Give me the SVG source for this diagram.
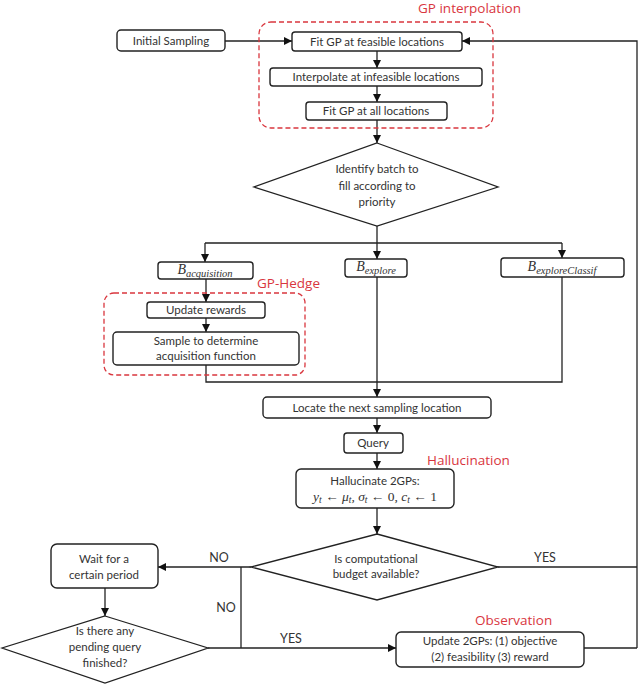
<svg xmlns="http://www.w3.org/2000/svg" width="640" height="684" viewBox="0 0 640 684">
<defs>
<marker id="ah" viewBox="0 0 10 10" refX="10" refY="5" markerWidth="8" markerHeight="8" markerUnits="userSpaceOnUse" orient="auto">
<path d="M0,0 L10,5 L0,10 z" fill="#111"/>
</marker>
<style>
.box{fill:#fff;stroke:#222;stroke-width:1.4}
.dia{fill:#fff;stroke:#222;stroke-width:1.3}
.grp{fill:none;stroke:#d9363e;stroke-width:1.3;stroke-dasharray:5,3}
.t{font-family:Lato,"Open Sans","Liberation Sans",sans-serif;font-size:11.5px;fill:#333;text-anchor:middle}
.lbl{font-family:Lato,"Open Sans","Liberation Sans",sans-serif;font-size:12.5px;fill:#333;text-anchor:middle}
.red{font-family:"Open Sans",Lato,"Liberation Sans",sans-serif;font-size:13.5px;fill:#d9363e}
.m{font-family:"Liberation Serif","DejaVu Serif",serif;font-style:italic;fill:#333;text-anchor:middle}
.c{fill:none;stroke:#222;stroke-width:1.3}
.ca{fill:none;stroke:#222;stroke-width:1.3;marker-end:url(#ah)}
</style>
</defs>
<rect width="640" height="684" fill="#fff"/>

<g id="connectors">
<path class="ca" d="M225,41 H292"/>
<path class="ca" d="M637,648 V41 H462"/>
<path class="ca" d="M377,51 V68"/>
<path class="ca" d="M377,86 V102"/>
<path class="ca" d="M377,120 V143"/>
<path class="c" d="M377,226 V243 M205,243 H562"/>
<path class="ca" d="M205,243 V262"/>
<path class="ca" d="M377,243 V259"/>
<path class="ca" d="M562,243 V258"/>
<path class="ca" d="M206,279 V302"/>
<path class="ca" d="M206,318 V332"/>
<path class="c" d="M206,365 V382 H562 V277"/>
<path class="ca" d="M377,277 V397"/>
<path class="ca" d="M377,418 V433"/>
<path class="ca" d="M377,453 V469"/>
<path class="ca" d="M377,508 V534"/>
<path class="ca" d="M251,567 H158"/>
<path class="c" d="M498,567 H637"/>
<path class="c" d="M241,567 V648"/>
<path class="ca" d="M105,588 V616"/>
<path class="ca" d="M208,648 H396"/>
<path class="c" d="M584,648 H637"/>
<text class="lbl" x="219" y="562">NO</text>
<text class="lbl" x="226" y="612">NO</text>
<text class="lbl" x="545" y="562">YES</text>
<text class="lbl" x="291" y="643">YES</text>
</g>

<g id="gp-interpolation">
<rect class="grp" x="259" y="22" width="234" height="106" rx="12"/>
<text class="red" x="418" y="13">GP interpolation</text>
</g>
<g id="gp-hedge">
<rect class="grp" x="104" y="293" width="201" height="82" rx="10"/>
<text class="red" x="257" y="288">GP-Hedge</text>
</g>
<g id="hallucination-label"><text class="red" x="427" y="465">Hallucination</text></g>
<g id="observation-label"><text class="red" x="475" y="625">Observation</text></g>

<g id="initial-sampling">
<rect class="box" x="117" y="30" width="108" height="21" rx="4"/>
<text class="t" x="171" y="45">Initial Sampling</text>
</g>
<g id="fit-feasible">
<rect class="box" x="292" y="32" width="170" height="19" rx="3"/>
<text class="t" x="377" y="46">Fit GP at feasible locations</text>
</g>
<g id="interpolate">
<rect class="box" x="270" y="68" width="212" height="18" rx="3"/>
<text class="t" x="376" y="81">Interpolate at infeasible locations</text>
</g>
<g id="fit-all">
<rect class="box" x="306" y="102" width="141" height="18" rx="3"/>
<text class="t" x="376" y="115">Fit GP at all locations</text>
</g>
<g id="identify-batch">
<polygon class="dia" points="377,143 498,187 377,226 254,187"/>
<text class="t" x="377" y="173">Identify batch to</text>
<text class="t" x="377" y="190">fill according to</text>
<text class="t" x="377" y="206">priority</text>
</g>
<g id="b-acquisition">
<rect class="box" x="158" y="262" width="95" height="17" rx="3"/>
<text class="m" x="205" y="274"><tspan font-size="14">B</tspan><tspan font-size="10.5" dy="3">acquisition</tspan></text>
</g>
<g id="b-explore">
<rect class="box" x="345" y="259" width="62" height="18" rx="3"/>
<text class="m" x="376" y="271"><tspan font-size="14">B</tspan><tspan font-size="10.5" dy="3">explore</tspan></text>
</g>
<g id="b-exploreclassif">
<rect class="box" x="501" y="258" width="123" height="19" rx="3"/>
<text class="m" x="562" y="271"><tspan font-size="14">B</tspan><tspan font-size="10.5" dy="3">exploreClassif</tspan></text>
</g>
<g id="update-rewards">
<rect class="box" x="147" y="302" width="118" height="16" rx="3"/>
<text class="t" x="206" y="314">Update rewards</text>
</g>
<g id="sample-acq">
<rect class="box" x="113" y="332" width="186" height="33" rx="4"/>
<text class="t" x="206" y="345">Sample to determine</text>
<text class="t" x="206" y="360">acquisition function</text>
</g>
<g id="locate">
<rect class="box" x="263" y="397" width="228" height="21" rx="4"/>
<text class="t" x="377" y="412">Locate the next sampling location</text>
</g>
<g id="query">
<rect class="box" x="344" y="433" width="59" height="20" rx="3"/>
<text class="t" x="373" y="447">Query</text>
</g>
<g id="hallucinate">
<rect class="box" x="296" y="469" width="158" height="39" rx="5"/>
<text class="t" x="375" y="485">Hallucinate 2GPs:</text>
<text class="m" x="375" y="501" font-size="13.5"><tspan>y</tspan><tspan font-size="9.5" dy="2">t</tspan><tspan dy="-2"> ← μ</tspan><tspan font-size="9.5" dy="2">t</tspan><tspan dy="-2">, σ</tspan><tspan font-size="9.5" dy="2">t</tspan><tspan dy="-2" font-style="normal"> ← 0, </tspan><tspan>c</tspan><tspan font-size="9.5" dy="2">t</tspan><tspan dy="-2" font-style="normal"> ← 1</tspan></text>
</g>
<g id="budget">
<polygon class="dia" points="377,534 498,567 377,600 251,567"/>
<text class="t" x="376" y="563">Is computational</text>
<text class="t" x="376" y="578">budget available?</text>
</g>
<g id="wait">
<rect class="box" x="51" y="544" width="107" height="44" rx="6"/>
<text class="t" x="104" y="563">Wait for a</text>
<text class="t" x="104" y="579">certain period</text>
</g>
<g id="pending">
<polygon class="dia" points="105,616 208,648 105,683 2,648"/>
<text class="t" x="105" y="635">Is there any</text>
<text class="t" x="105" y="651">pending query</text>
<text class="t" x="105" y="667">finished?</text>
</g>
<g id="update-gps">
<rect class="box" x="396" y="632" width="188" height="35" rx="5"/>
<text class="t" x="490" y="645">Update 2GPs: (1) objective</text>
<text class="t" x="490" y="661">(2) feasibility (3) reward</text>
</g>
</svg>
